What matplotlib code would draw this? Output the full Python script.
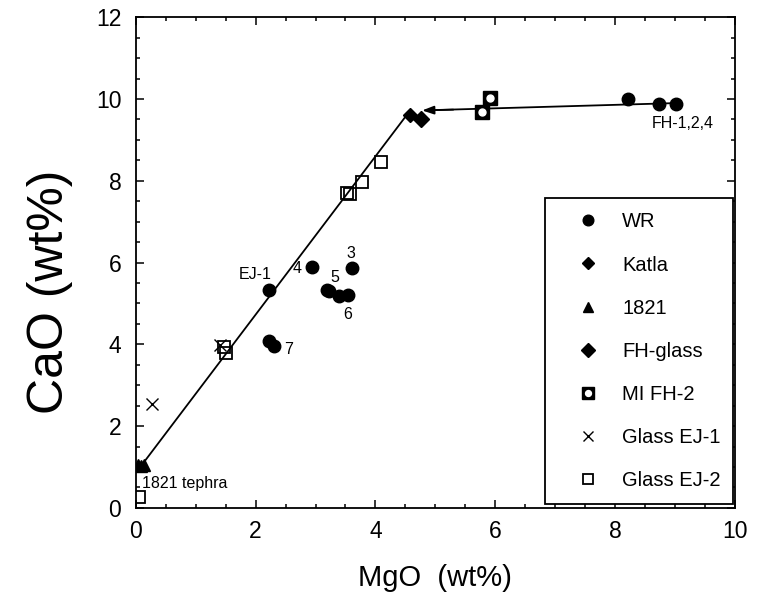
import matplotlib.pyplot as plt
from matplotlib.ticker import MultipleLocator
from matplotlib.legend_handler import HandlerTuple

plt.rcParams['font.family'] = ['Liberation Sans', 'DejaVu Sans']

# whole-rock analyses
wr_mgo = [2.22, 2.94, 3.61, 3.19, 3.22, 3.40, 3.55, 2.22, 2.30, 8.21, 8.74, 9.02]
wr_cao = [5.33, 5.90, 5.86, 5.33, 5.30, 5.17, 5.21, 4.08, 3.95, 9.99, 9.88, 9.88]

katla_mgo = [4.58]
katla_cao = [9.62]

t1821_mgo = [0.04, 0.09, 0.14]
t1821_cao = [1.05, 1.03, 1.04]

fhglass_mgo = [4.76]
fhglass_cao = [9.52]

mi_mgo = [5.92, 5.78]
mi_cao = [10.02, 9.67]

ej1_mgo = [1.41, 0.27]
ej1_cao = [3.98, 2.55]

ej2_mgo = [3.52, 3.57, 3.77, 4.10, 1.47, 1.51, 0.05]
ej2_cao = [7.70, 7.67, 7.98, 8.47, 3.93, 3.78, 0.27]

# trend lines
trend1_mgo = [0.10, 4.55]
trend1_cao = [1.05, 9.66]
trend2_mgo = [9.02, 4.78]
trend2_cao = [9.90, 9.72]

# sample labels
labels = ['EJ-1', '4', '3', '5', '6', '7', 'FH-1,2,4', '1821 tephra']
label_x = [1.72, 2.62, 3.52, 3.24, 3.46, 2.48, 8.62, 0.10]
label_y = [5.52, 5.68, 6.03, 5.44, 4.55, 3.70, 9.22, 0.41]

fig = plt.figure(figsize=(7.59, 5.94), dpi=100)
ax = fig.add_axes([0.179, 0.145, 0.789, 0.826])

ax.plot(trend1_mgo, trend1_cao, color='black', lw=1.3, zorder=1)
ax.plot(trend2_mgo[:1] + [5.0], [trend2_cao[0], 9.73], color='black', lw=1.3, zorder=1)
ax.annotate('', xy=(trend2_mgo[1], trend2_cao[1]), xytext=(5.3, 9.74),
            arrowprops=dict(arrowstyle='-|>,head_length=0.7,head_width=0.25',
                            color='black', lw=1.3, shrinkA=0, shrinkB=0))

h_wr, = ax.plot(wr_mgo, wr_cao, 'o', color='black', ms=9, ls='none', zorder=3)
h_katla, = ax.plot(katla_mgo, katla_cao, 'D', color='black', ms=7, ls='none', zorder=3)
h_1821, = ax.plot(t1821_mgo, t1821_cao, '^', color='black', ms=8, ls='none', zorder=3)
h_fh, = ax.plot(fhglass_mgo, fhglass_cao, 'D', color='black', ms=8.5, ls='none', zorder=3)
h_mi1, = ax.plot(mi_mgo, mi_cao, 's', color='black', ms=10, ls='none', zorder=3)
h_mi2, = ax.plot(mi_mgo, mi_cao, 'o', color='white', ms=5, ls='none', zorder=4)
h_ej1, = ax.plot(ej1_mgo, ej1_cao, 'x', color='black', ms=8, mew=1, ls='none', zorder=3)
h_ej2, = ax.plot(ej2_mgo, ej2_cao, 's', mfc='none', mec='black', ms=8, mew=1.3,
                 ls='none', zorder=3)

for t, x, y in zip(labels, label_x, label_y):
    ax.text(x, y, t, fontsize=11.5, ha='left', va='bottom')

ax.set_xlim(0, 10)
ax.set_ylim(0, 12)
ax.xaxis.set_major_locator(MultipleLocator(2))
ax.xaxis.set_minor_locator(MultipleLocator(0.5))
ax.yaxis.set_major_locator(MultipleLocator(2))
ax.yaxis.set_minor_locator(MultipleLocator(0.5))
ax.tick_params(which='both', direction='in', top=True, right=True, width=1.1,
               labelsize=16.5)
ax.tick_params(which='major', length=6, pad=9)
ax.tick_params(axis='y', which='major', pad=10.5)
ax.tick_params(which='minor', length=3)
for sp in ax.spines.values():
    sp.set_linewidth(1.3)

ax.set_xlabel('MgO  (wt%)', fontsize=21, labelpad=15)
ax.set_ylabel('CaO (wt%)', fontsize=36)
ax.yaxis.set_label_coords(-0.105, 0.44)

leg = ax.legend([h_wr, h_katla, h_1821, h_fh, (h_mi1, h_mi2), h_ej1, h_ej2],
                ['WR', 'Katla', '1821', 'FH-glass', 'MI FH-2', 'Glass EJ-1', 'Glass EJ-2'],
                handler_map={tuple: HandlerTuple(ndivide=1)},
                loc='upper left', bbox_to_anchor=(0.684, 0.012, 0.313, 0.619),
                mode='expand', fontsize=14.5,
                frameon=True, fancybox=False, edgecolor='black', framealpha=1,
                borderaxespad=0, labelspacing=1.2, handlelength=2.8,
                handletextpad=0.3, borderpad=0.7, markerscale=0.85)
leg.get_frame().set_linewidth(1.3)

fig.savefig('out.png', dpi=100)
